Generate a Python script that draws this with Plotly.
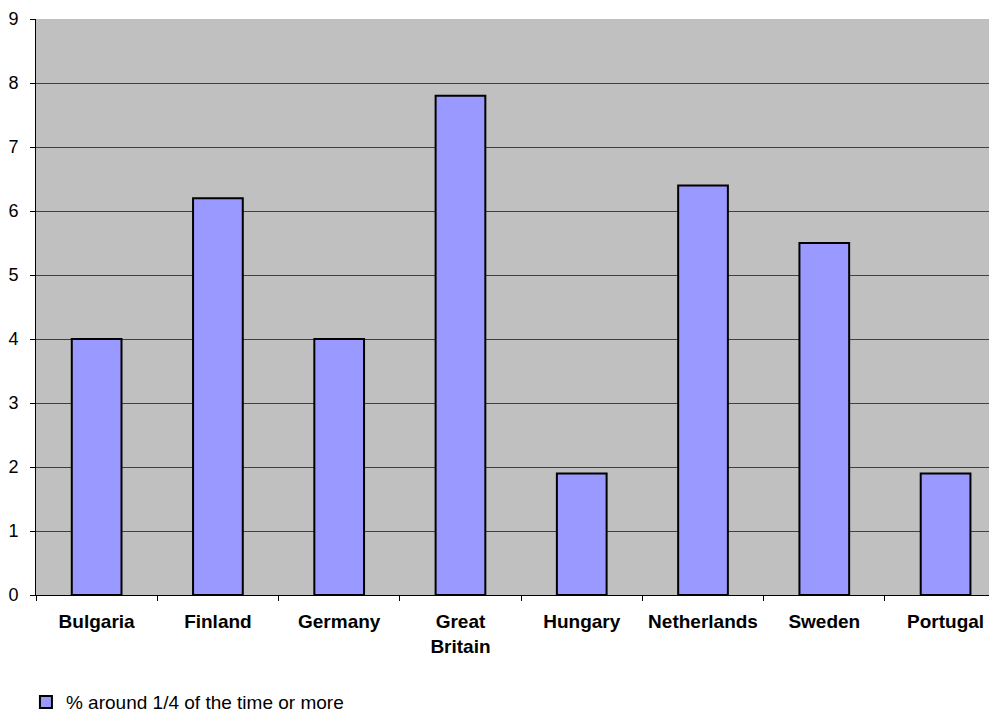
import plotly.graph_objects as go

categories = ["Bulgaria", "Finland", "Germany", "Great<br>Britain", "Hungary",
              "Netherlands", "Sweden", "Portugal"]
values = [4.0, 6.2, 4.0, 7.8, 1.9, 6.4, 5.5, 1.9]
series_name = "% around 1/4 of the time or more"

FONT = "Liberation Sans, Arial, sans-serif"

fig = go.Figure()
fig.add_trace(go.Bar(
    x=categories, y=values, name=series_name,
    marker=dict(color="#9999FF", line=dict(color="black", width=2)),
    width=0.41, showlegend=True,
))

fig.update_layout(
    width=997, height=709,
    margin=dict(l=26, r=0, t=11, b=122),
    paper_bgcolor="white", plot_bgcolor="#C0C0C0",
    font=dict(family=FONT, size=18, color="black"),
    showlegend=True,
    legend=dict(orientation="h", xref="container", yref="container",
                x=0.018, y=0.021, xanchor="left", yanchor="middle",
                font=dict(size=19), bgcolor="rgba(0,0,0,0)"),
    bargap=0.59,
)
fig.update_xaxes(
    type="category", range=[-0.5, 7.49],
    showline=True, linecolor="black", linewidth=1,
    ticks="outside", tickson="boundaries", ticklen=5, tickcolor="black",
    tickfont=dict(size=19, family=FONT, weight="bold"),
    ticklabelstandoff=9, showgrid=False,
)
fig.update_yaxes(
    range=[0, 9], dtick=1,
    showline=True, linecolor="black", linewidth=1,
    ticks="outside", ticklen=5, tickcolor="black",
    gridcolor="#404040", gridwidth=1,
    tickfont=dict(size=18, family=FONT),
    ticklabelstandoff=8, zeroline=False,
)
fig.write_html("out.html")
